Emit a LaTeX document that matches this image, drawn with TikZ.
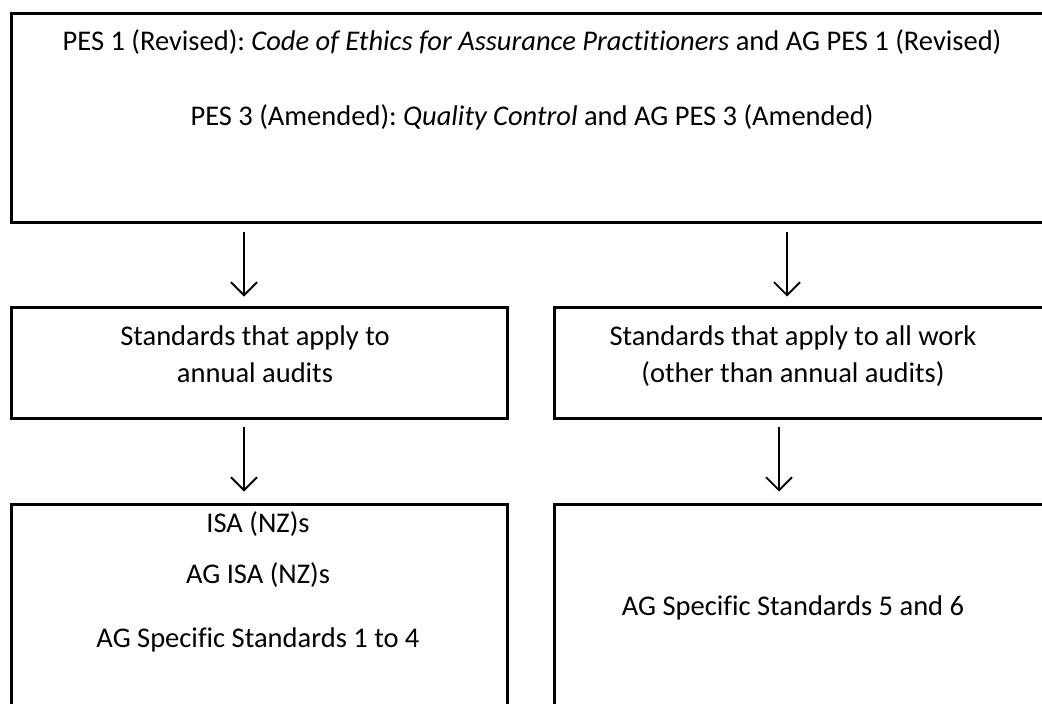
\documentclass[tikz,border=0pt]{standalone}
\usepackage{fontspec}
\setmainfont{Carlito}[Ligatures=NoCommon]
\usetikzlibrary{arrows.meta, positioning}

\begin{document}
\begin{tikzpicture}[
    x = 1pt, y = -1pt,
    boks/.style = {rectangle, draw, line width=3pt, inner sep=0pt},
    tekst/.style = {anchor=base, inner sep=0pt},
    pil/.style = {black, line width=1.8pt, -{Straight Barb[length=13pt, width=26pt, line width=1.8pt]}},
    font=\fontsize{28.5}{37}\selectfont
    ]

  \useasboundingbox (0,0) rectangle (1042,704);
  \clip (0,0) rectangle (1042,704);

  % boxes
  \node[boks, minimum width=1059pt, minimum height=209pt] (top) at (540.5,117.5) {};
  \node[boks, minimum width=496pt, minimum height=111pt] (midL) at (259,362.5) {};
  \node[boks, minimum width=496pt, minimum height=111pt] (midR) at (802,362.5) {};
  \node[boks, minimum width=496pt, minimum height=216pt] (botL) at (259,612) {};
  \node[boks, minimum width=496pt, minimum height=216pt] (botR) at (802,612) {};

  % texts
  \node[tekst] (t1) at (532,50) {PES 1 (Revised):\ \textit{Code of Ethics for Assurance Practitioners} and AG PES 1 (Revised)};
  \node[tekst] (t2) at (532,125) {PES 3 (Amended):\ \textit{Quality Control} and AG PES 3 (Amended)};

  \node[tekst] (l1) at (255,345) {Standards that apply to};
  \node[tekst] (l2) at (255,382) {annual audits};
  \node[tekst] (r1) at (793,345) {Standards that apply to all work};
  \node[tekst] (r2) at (793,382) {(other than annual audits)};

  \node[tekst] (b1) at (258,532) {ISA (NZ)s};
  \node[tekst] (b2) at (258,583) {AG ISA (NZ)s};
  \node[tekst] (b3) at (258,647) {AG Specific Standards 1 to 4};
  \node[tekst] (b4) at (793,615) {AG Specific Standards 5 and 6};

  % arrows
  \coordinate (colL) at (244,0);
  \coordinate (colR) at (787,0);
  \coordinate (colR2) at (779,0);

  \draw[pil, shorten <=8pt, shorten >=9pt] (top.south -| colL) -- (midL.north -| colL);
  \draw[pil, shorten <=8pt, shorten >=9pt] (top.south -| colR) -- (midR.north -| colR);
  \draw[pil, shorten <=7pt, shorten >=11pt] (midL.south -| colL) -- (botL.north -| colL);
  \draw[pil, shorten <=7pt, shorten >=11pt] (midR.south -| colR2) -- (botR.north -| colR2);

\end{tikzpicture}
\end{document}
